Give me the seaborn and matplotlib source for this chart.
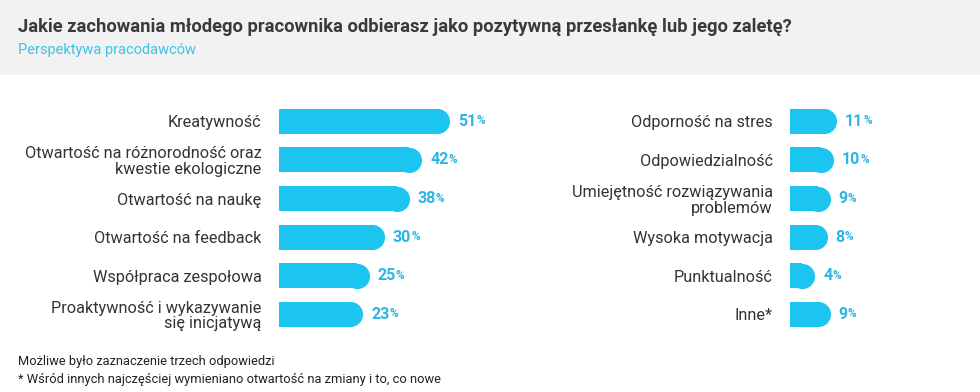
import numpy as np
import pandas as pd
import matplotlib
matplotlib.use("Agg")
import matplotlib.pyplot as plt
import seaborn as sns

# Data
left_labels = ["Kreatywność", "Otwartość na różnorodność oraz\nkwestie ekologiczne",
               "Otwartość na naukę", "Otwartość na feedback", "Współpraca zespołowa",
               "Proaktywność i wykazywanie\nsię inicjatywą"]
left_values = [51, 42, 38, 30, 25, 23]
right_labels = ["Odporność na stres", "Odpowiedzialność",
                "Umiejętność rozwiązywania\nproblemów", "Wysoka motywacja",
                "Punktualność", "Inne*"]
right_values = [11, 10, 9, 8, 4, 9]

title = "Jakie zachowania młodego pracownika odbierasz jako pozytywną przesłankę lub jego zaletę?"
subtitle = "Perspektywa pracodawców"
notes = ["Możliwe było zaznaczenie trzech odpowiedzi",
         "* Wśród innych najczęściej wymieniano otwartość na zmiany i to, co nowe"]

bar_color = "#1cc4f0"
value_color = "#2bb5e3"
text_color = "#333333"

sns.set_theme(style="white")
plt.rcParams["font.family"] = ["Roboto", "DejaVu Sans"]

W, H = 980, 392
fig = plt.figure(figsize=(W / 100, H / 100), dpi=100)
fig.patch.set_facecolor("white")

# header band
fig.patches.append(plt.Rectangle((0, 1 - 75 / H), 1, 75 / H, transform=fig.transFigure,
                                 facecolor="#f2f2f2", edgecolor="none", zorder=0))
fig.text(18 / W, 1 - 27 / H, title, fontsize=13.2, fontweight="bold", color="#3a3a3a",
         va="center", ha="left")
fig.text(18 / W, 1 - 50 / H, subtitle, fontsize=10.5, color="#3cc3ea", va="center", ha="left")
fig.text(18 / W, 1 - 362 / H, notes[0], fontsize=9.3, color="#222222", va="center")
fig.text(18 / W, 1 - 380 / H, notes[1], fontsize=9.3, color="#222222", va="center")

scale = 3.1  # px per percent
xmax = 60
bar_h = 0.65
row_px = 38.6


def panel(x0, labels, values):
    top, bottom = 102, 102 + row_px * 6
    ax = fig.add_axes([x0 / W, 1 - bottom / H, xmax * scale / W, (bottom - top) / H])
    df = pd.DataFrame({"label": labels, "value": values})
    sns.barplot(data=df, x="value", y="label", ax=ax, color=bar_color, width=bar_h,
                saturation=1, orient="h", linewidth=0)
    # rounded ends
    cap = (bar_h * row_px * 0.72) ** 2
    ax.scatter(df["value"], np.arange(len(df)), s=cap, color=bar_color, marker="o",
               linewidths=0, zorder=3, clip_on=False)
    ax.set_xlim(0, xmax)
    ax.set_ylim(len(df) - 0.5, -0.5)
    ax.set_xlabel("")
    ax.set_ylabel("")
    ax.set_xticks([])
    ax.tick_params(axis="y", length=0, pad=12.5, labelsize=11.7, labelcolor=text_color)
    for t in ax.get_yticklabels():
        t.set_multialignment("right")
        t.set_linespacing(1.05)
    sns.despine(ax=ax, left=True, bottom=True)
    ax.patch.set_alpha(0)
    for i, v in enumerate(values):
        t = ax.annotate(str(v), xy=(v, i), xytext=(15, 0), textcoords="offset points",
                        va="center", ha="left", fontsize=11.5, fontweight="bold",
                        color=value_color)
        ax.annotate("%", xy=(1, 0.1), xycoords=t, xytext=(0, 0),
                    textcoords="offset points", va="bottom", ha="left", fontsize=8.5,
                    fontweight="bold", color=value_color)
    return ax


panel(279, left_labels, left_values)
panel(790, right_labels, right_values)

fig.savefig("out.png", dpi=100)
